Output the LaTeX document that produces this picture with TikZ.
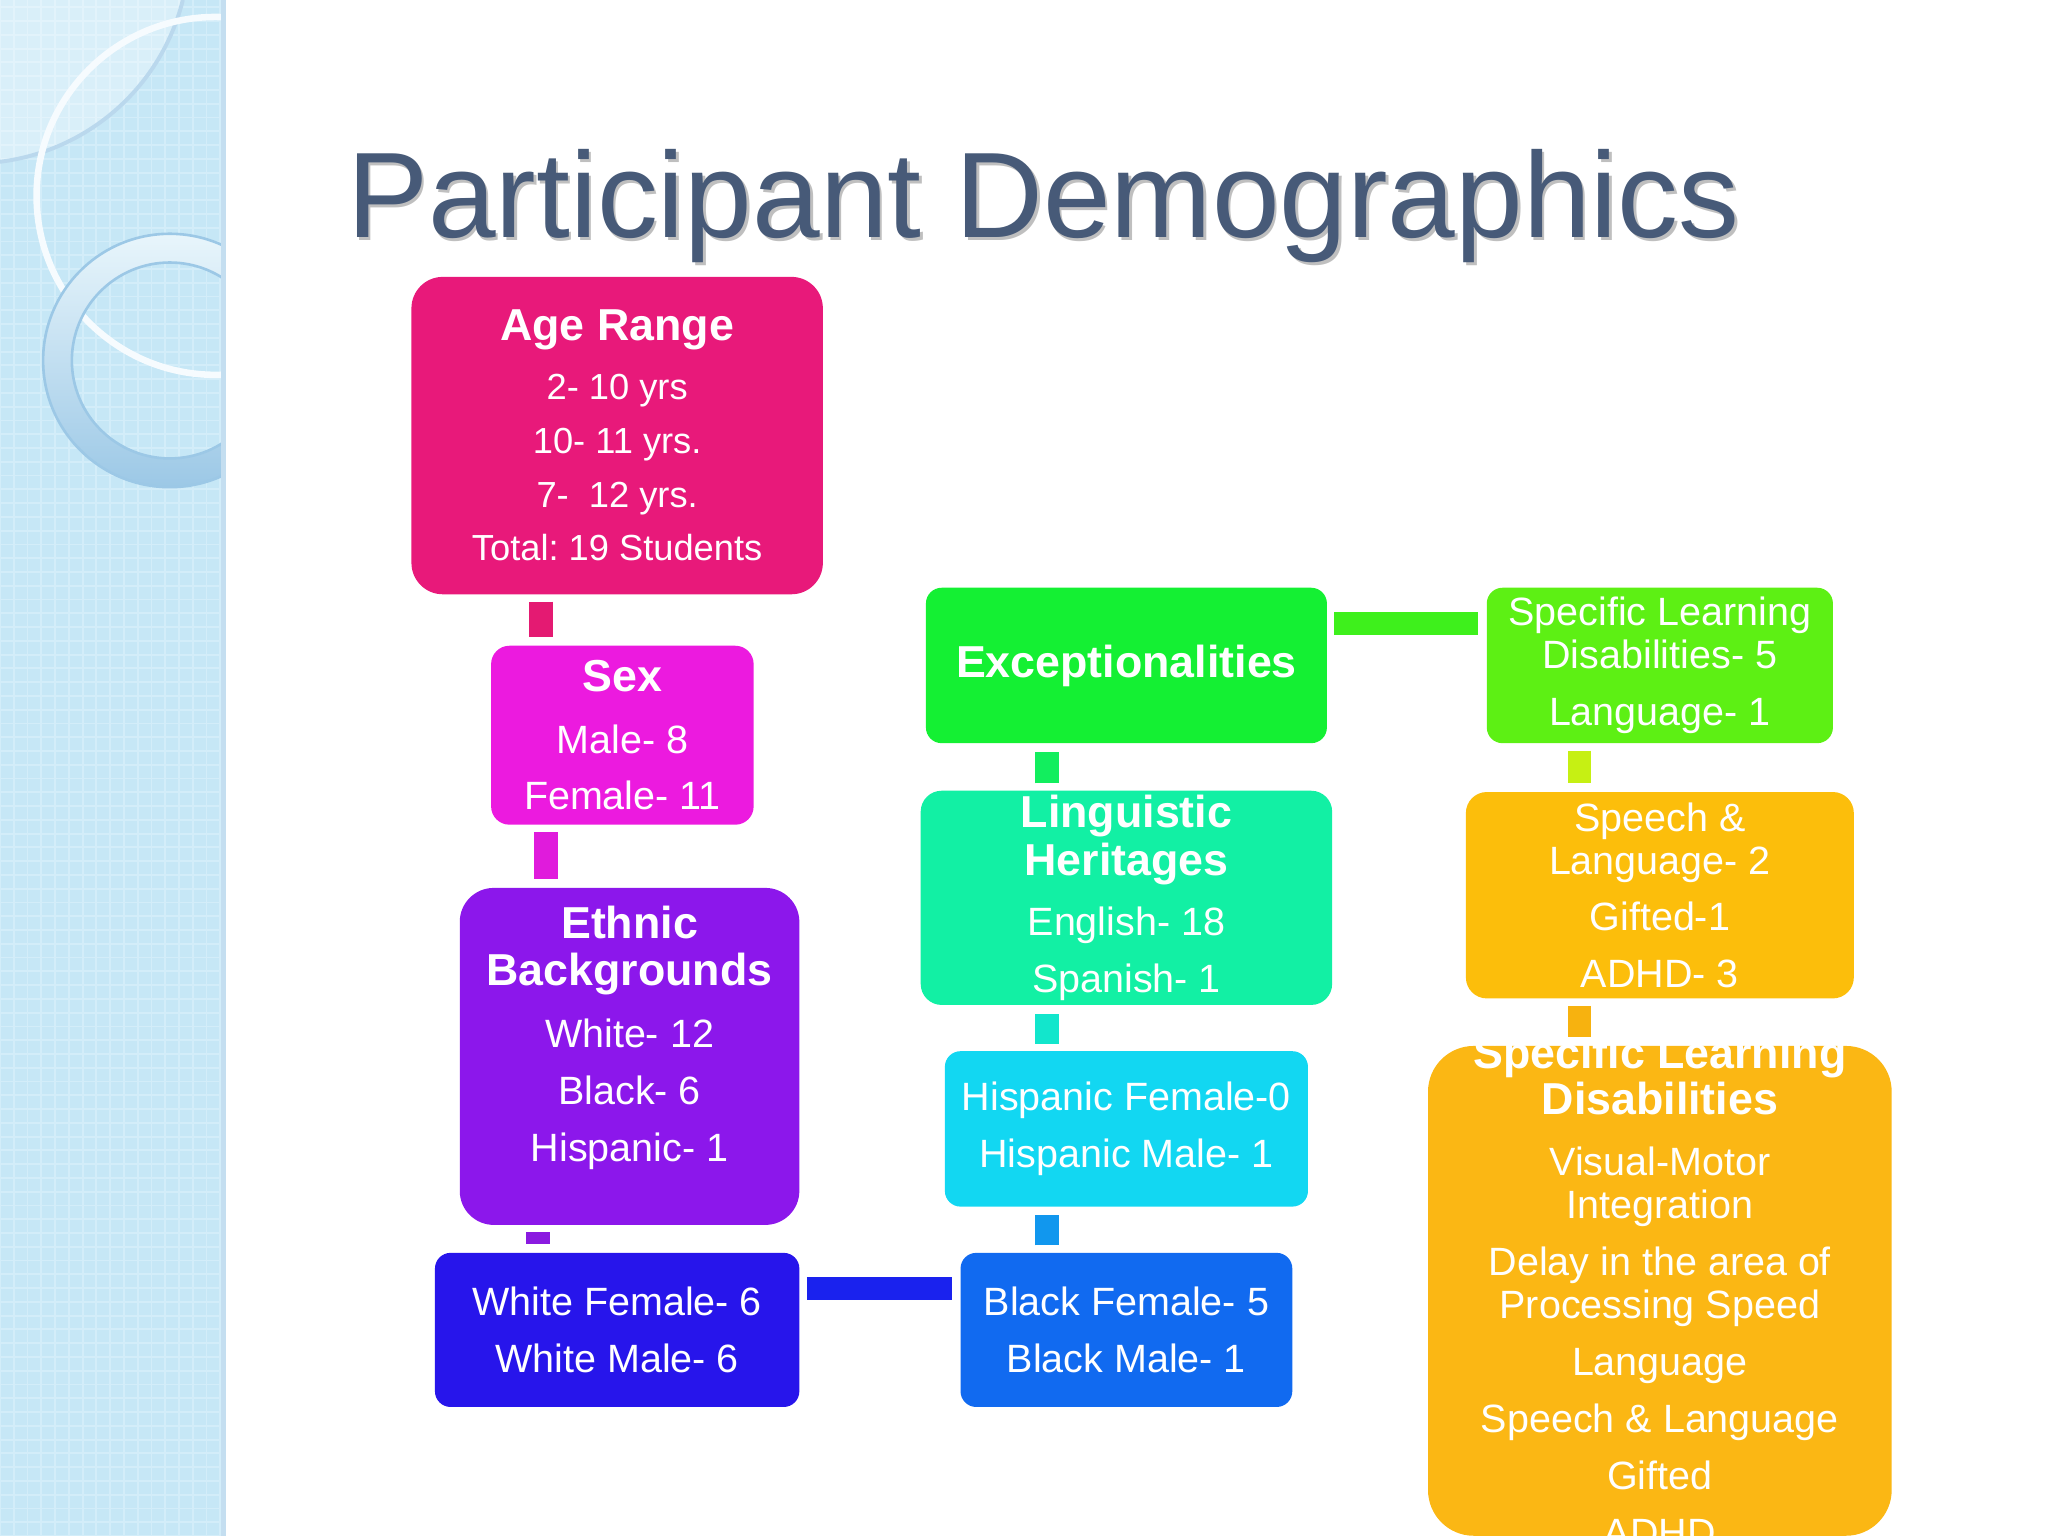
\documentclass[tikz,border=0pt]{standalone}
\usepackage{fontspec}
\setmainfont{Liberation Sans}
\usetikzlibrary{positioning}
\usetikzlibrary{patterns}

\definecolor{barblue}{HTML}{C6E7F6}
\definecolor{gridblue}{HTML}{D3EDF9}
\definecolor{ringblue}{HTML}{9CC8E6}
\definecolor{titlecol}{HTML}{475A78}
\definecolor{agecol}{HTML}{E8197A}
\definecolor{agebar}{HTML}{E41A72}
\definecolor{sexcol}{HTML}{EC1ADF}
\definecolor{sexbar}{HTML}{E01BDC}
\definecolor{ethcol}{HTML}{8C17EB}
\definecolor{ethbar}{HTML}{8A1AE0}
\definecolor{whtcol}{HTML}{2715EB}
\definecolor{whtbar}{HTML}{1A22EE}
\definecolor{blkcol}{HTML}{116AF0}
\definecolor{blkbar}{HTML}{1197EE}
\definecolor{hspcol}{HTML}{12D7F2}
\definecolor{hspbar}{HTML}{12E6CC}
\definecolor{lngcol}{HTML}{12F0A4}
\definecolor{lngbar}{HTML}{12EE5E}
\definecolor{exccol}{HTML}{14F033}
\definecolor{excbar}{HTML}{3EF01C}
\definecolor{sldcol}{HTML}{5DF014}
\definecolor{sldbar}{HTML}{C6F013}
\definecolor{splcol}{HTML}{FCBE0B}
\definecolor{splbar}{HTML}{F7B20F}
\definecolor{sldtwocol}{HTML}{FBB714}

\tikzset{
  box/.style={rectangle, inner sep=0pt, align=center, text=white,
    font=\frenchspacing\fontsize{8.6}{9.3}\selectfont},
  bar/.style={line width=1.8mm, shorten <=0.5mm, shorten >=0.6mm},
}
\newcommand{\hd}[1]{{\bfseries\fontsize{9.75}{10.3}\selectfont #1}}

\begin{document}
\begin{tikzpicture}
\useasboundingbox (0,0) rectangle (15.68,-11.76);

% side strip
\fill[barblue] (0,0) rectangle (1.73,-11.76);
\fill[pattern=grid, pattern color=gridblue] (0,0) rectangle (1.73,-11.76);
\begin{scope}
  \clip (0,0) rectangle (1.73,-11.76);
  \fill[white, opacity=0.35] (0,0) -- (1.4,0) arc[start angle=-14, end angle=-83, radius=1.65] -- cycle;
  \draw[ringblue!70, line width=0.3mm] (1.4,0) arc[start angle=-14, end angle=-83, radius=1.65];
  \draw[white!85!barblue, line width=0.5mm] (1.65,-1.5) circle (1.37);
  \shade[even odd rule, top color=white!60!barblue, bottom color=ringblue]
    (1.3,-2.76) circle (0.97) (1.3,-2.76) circle (0.75);
  \draw[ringblue, line width=0.2mm] (1.3,-2.76) circle (0.97) (1.3,-2.76) circle (0.75);
\end{scope}
\draw[ringblue!60, line width=0.4mm] (1.71,0) -- (1.71,-11.76);

\node(tshadow)[anchor=base west, inner sep=0pt, text=black, opacity=0.25,
  font=\fontsize{26.5}{30}\selectfont] at (2.67,-1.845) {Participant Demographics};
\node(title)[anchor=base west, inner sep=0pt, text=titlecol,
  font=\fontsize{26.5}{30}\selectfont] at (2.65,-1.82) {Participant Demographics};

\node(age)[box, fill=agecol, rounded corners=2.4mm, minimum width=31.5mm, minimum height=24.3mm,
  font=\frenchspacing\fontsize{7.9}{8.6}\selectfont] at (4.725,-3.335)
  {\hd{Age Range}\\[4.2pt]2- 10 yrs\\[3.1pt]10- 11 yrs.\\[3.1pt]7-\ \ 12 yrs.\\[3.1pt]Total: 19 Students};
\node(sex)[box, fill=sexcol, rounded corners=1.4mm, minimum width=20.1mm, minimum height=13.7mm,
  below=3.8mm of age, xshift=0.4mm]
  {\hd{Sex}\\[4.1pt]Male- 8\\[2.9pt]Female- 11};
\node(eth)[box, fill=ethcol, rounded corners=2.6mm, minimum width=26mm, minimum height=25.8mm,
  below=4.7mm of sex, xshift=0.55mm]
  {\hd{Ethnic}\\[1pt]\hd{Backgrounds}\\[4.1pt]White- 12\\[3.2pt]Black- 6\\[3.2pt]Hispanic- 1\\[0.5pt]\mbox{}};
\node(wht)[box, fill=whtcol, rounded corners=1.2mm, minimum width=27.9mm, minimum height=11.8mm,
  below=2mm of eth, xshift=-0.95mm]
  {White Female- 6\\[3.2pt]White Male- 6};
\node(blk)[box, fill=blkcol, rounded corners=1.2mm, minimum width=25.4mm, minimum height=11.8mm,
  right=12.2mm of wht]
  {Black Female- 5\\[3.2pt]Black Male- 1};
\node(hsp)[box, fill=hspcol, rounded corners=1.2mm, minimum width=27.8mm, minimum height=11.9mm,
  above=3.4mm of blk]
  {Hispanic Female-0\\[3.2pt]Hispanic Male- 1};
\node(lng)[box, fill=lngcol, rounded corners=1.6mm, minimum width=31.5mm, minimum height=16.4mm,
  above=3.4mm of hsp]
  {\hd{Linguistic}\\[1.2pt]\hd{Heritages}\\[3.8pt]English- 18\\[3.2pt]Spanish- 1};
\node(exc)[box, fill=exccol, rounded corners=1.2mm, minimum width=30.7mm, minimum height=11.9mm,
  above=3.5mm of lng]
  {\hd{Exceptionalities}};
\node(sld)[box, fill=sldcol, rounded corners=1.2mm, minimum width=26.5mm, minimum height=11.9mm,
  right=12.1mm of exc]
  {Specific Learning\\Disabilities- 5\\[3.2pt]Language- 1};
\node(spl)[box, fill=splcol, rounded corners=1.6mm, minimum width=29.7mm, minimum height=15.8mm,
  below=3.6mm of sld]
  {Speech \&\\Language- 2\\[3pt]Gifted-1\\[3pt]ADHD- 3};
\node(sldtwo)[box, fill=sldtwocol, rounded corners=3.5mm, minimum width=35.5mm, minimum height=37.5mm,
  below=3.5mm of spl] {};
\node(sldtwotxt)[box] at (sldtwo.center)
  {\hd{Specific Learning}\\[0.7pt]\hd{Disabilities}\\[4.1pt]Visual-Motor\\Integration\\[3.2pt]Delay in the area of\\Processing Speed\\[3.2pt]Language\\[3pt]Speech \& Language\\[3.2pt]Gifted\\[3pt]ADHD};

\draw[bar, agebar] ([xshift=-5.85mm]age.south) -- ([xshift=-5.85mm]age.south |- sex.north);
\draw[bar, sexbar] ([xshift=-5.85mm]sex.south) -- ([xshift=-5.85mm]sex.south |- eth.north);
\draw[bar, ethbar] ([xshift=-7mm]eth.south) -- ([xshift=-7mm]eth.south |- wht.north);
\draw[bar, whtbar] ([yshift=-2.8mm]wht.north east) -- ([yshift=-2.8mm]wht.north east -| blk.west);
\draw[bar, blkbar] ([xshift=-6.1mm]blk.north) -- ([xshift=-6.1mm]blk.north |- hsp.south);
\draw[bar, hspbar] ([xshift=-6.1mm]hsp.north) -- ([xshift=-6.1mm]hsp.north |- lng.south);
\draw[bar, lngbar] ([xshift=-6.1mm]lng.north) -- ([xshift=-6.1mm]lng.north |- exc.south);
\draw[bar, excbar] ([yshift=-2.8mm]exc.north east) -- ([yshift=-2.8mm]exc.north east -| sld.west);
\draw[bar, sldbar] ([xshift=-6.15mm]sld.south) -- ([xshift=-6.15mm]sld.south |- spl.north);
\draw[bar, splbar] ([xshift=-6.15mm]spl.south) -- ([xshift=-6.15mm]spl.south |- sldtwo.north);

\end{tikzpicture}
\end{document}
